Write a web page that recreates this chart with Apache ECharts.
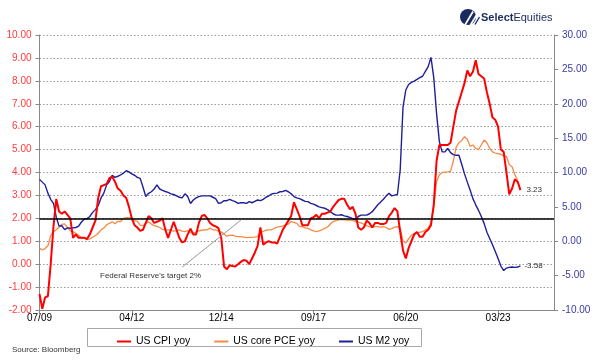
<!DOCTYPE html>
<html><head><meta charset="utf-8">
<script src="https://cdn.jsdelivr.net/npm/echarts/dist/echarts.min.js"></script>
<style>html,body{margin:0;padding:0;background:#fff}#c{width:598px;height:364px}</style>
</head><body><div id="c"></div>
<script>
// ---- categories (monthly, 07/09 .. 11/24) ----
const startYear = 2009, startMonth = 7, nMonths = 185;
const categories = [];
for (let k = 0; k < nMonths; k++) {
  const m = (startMonth - 1 + k) % 12 + 1;
  const y = startYear + Math.floor((startMonth - 1 + k) / 12);
  categories.push(String(m).padStart(2, '0') + '/' + String(y % 100).padStart(2, '0'));
}
const xTickLabels = ['07/09', '04/12', '12/14', '09/17', '06/20', '03/23'];

// ---- series values ----
const cpiYoy = [
 -1.3,-1.95,-1.45,-1.4,0.0,1.65,2.84,2.3,2.2,2.3,
 2.15,2.0,1.15,1.3,1.15,1.15,1.15,1.1,1.3,1.6,
 1.9,2.9,3.4,3.45,3.5,3.75,3.82,3.6,3.3,3.2,
 3.0,2.9,2.5,2.0,1.7,1.6,1.45,1.5,1.8,2.1,
 2.0,1.8,1.85,1.9,2.0,1.5,1.15,1.5,1.85,1.5,
 1.15,0.95,1.0,1.3,1.55,1.3,1.3,1.8,2.1,2.15,
 2.0,1.8,1.7,1.65,1.57,1.15,-0.1,-0.22,-0.05,-0.08,
 -0.1,0.0,0.1,0.18,0.15,0.0,0.25,0.5,0.8,1.6,
 0.85,0.95,1.0,0.95,0.95,0.9,1.2,1.5,1.7,1.9,
 2.1,2.7,2.4,2.1,1.7,1.7,1.7,2.0,2.05,2.15,
 2.0,2.2,2.2,2.25,2.3,2.5,2.65,2.8,2.85,2.85,
 2.6,2.4,2.5,2.2,1.6,1.5,1.6,1.9,1.8,1.6,
 1.8,1.8,1.75,1.75,1.8,2.1,2.25,2.45,2.3,1.4,
 0.6,0.25,0.7,1.0,1.3,1.4,1.2,1.2,1.4,1.5,
 1.7,2.6,4.5,5.2,5.2,5.2,5.2,5.3,6.0,6.7,
 7.1,7.5,7.9,8.45,8.2,8.4,8.9,8.3,8.2,8.1,
 7.5,7.0,6.4,6.3,6.0,5.0,4.9,4.0,3.05,3.3,
 3.7,3.6,3.23
];
const corePceYoy = [
 0.7,0.62,0.68,0.8,1.25,1.42,1.5,1.62,1.74,1.76,
 1.6,1.45,1.42,1.35,1.26,1.14,1.16,1.07,1.1,1.18,
 1.25,1.35,1.5,1.57,1.72,1.78,1.85,1.76,1.87,1.86,
 2.0,2.03,2.02,2.03,1.9,1.87,1.7,1.68,1.78,1.85,
 1.75,1.68,1.65,1.6,1.52,1.5,1.5,1.48,1.44,1.46,
 1.5,1.44,1.42,1.46,1.38,1.35,1.4,1.45,1.48,1.5,
 1.5,1.57,1.5,1.5,1.43,1.4,1.32,1.22,1.26,1.27,
 1.22,1.2,1.2,1.18,1.16,1.17,1.17,1.18,1.2,1.4,
 1.43,1.48,1.5,1.5,1.56,1.62,1.64,1.66,1.7,1.75,
 1.86,1.82,1.78,1.64,1.64,1.58,1.56,1.5,1.45,1.42,
 1.45,1.5,1.56,1.62,1.75,1.86,1.9,1.93,1.95,1.93,
 1.92,1.93,1.9,1.86,1.84,1.8,1.74,1.68,1.64,1.62,
 1.64,1.64,1.62,1.64,1.6,1.52,1.55,1.62,1.64,1.56,
 1.0,0.93,1.1,1.27,1.32,1.35,1.4,1.42,1.5,1.58,
 1.82,2.5,3.6,3.9,4.0,4.02,4.03,4.05,4.5,5.1,
 5.3,5.4,5.56,5.45,5.15,5.2,5.05,5.0,5.2,5.42,
 5.3,5.05,4.9,4.85,4.82,4.79,4.72,4.7,4.35,4.25,
 3.9,3.65
];
const m2Yoy = [
 9.0,8.6,8.2,7.0,6.1,5.5,3.5,2.2,2.25,1.7,
 1.95,1.9,1.95,2.0,2.2,2.8,3.2,3.3,3.6,4.2,
 4.6,5.2,6.3,7.0,8.2,8.7,9.6,9.3,9.45,9.64,
 9.9,10.25,10.1,9.8,9.6,9.3,9.15,7.9,6.5,6.97,
 7.2,7.6,8.2,7.6,7.4,7.24,7.1,6.9,6.8,6.6,
 6.4,6.3,6.9,6.5,5.5,6.0,6.3,6.5,6.6,6.6,
 6.6,6.6,6.4,6.2,5.5,5.6,5.9,5.9,6.1,5.9,
 5.76,5.5,5.6,5.6,5.5,5.76,5.6,5.8,6.0,5.9,
 6.1,6.4,6.6,6.87,6.97,7.0,7.2,7.24,7.4,7.2,
 6.9,6.5,6.3,6.2,6.0,5.8,5.76,5.5,5.4,5.2,
 5.0,4.9,4.8,4.6,4.3,4.0,3.8,3.8,3.85,3.7,
 3.6,3.47,3.3,3.1,3.6,3.8,3.8,3.8,4.0,4.3,
 4.8,5.3,5.7,6.1,6.6,6.97,6.6,6.7,6.8,10.4,
 19.5,22.0,22.8,23.1,23.3,23.55,23.8,24.0,24.7,25.4,
 26.75,23.8,18.6,14.5,13.0,13.0,13.5,12.9,12.6,12.5,
 12.5,11.2,9.8,8.6,7.45,6.2,5.3,4.5,3.6,2.6,
 1.3,0.4,-0.5,-1.5,-2.5,-3.6,-4.27,-3.9,-3.8,-3.75,
 -3.8,-3.75,-3.58
];
const seriesNames = ['US CPI yoy', 'US core PCE yoy', 'US M2 yoy'];
const fedTarget = 2;
const fedNote = "Federal Reserve's target 2%";
const leftTicks = { min: -2, max: 10, step: 1 };
const rightTicks = { min: -10, max: 30, step: 5 };

const FONT = 'Liberation Sans, Arial, sans-serif';
const chart = echarts.init(document.getElementById('c'), null, { renderer: 'canvas' });
const showTick = (idx, val) => xTickLabels.indexOf(val) >= 0;

chart.setOption({
  animation: false,
  backgroundColor: '#fff',
  textStyle: { fontFamily: FONT },
  grid: { left: 39.5, right: 44, top: 35, bottom: 54, containLabel: false },
  legend: {
    left: 112, top: 331, itemWidth: 14, itemHeight: 2, itemGap: 24, icon: 'rect',
    textStyle: { fontSize: 10.5, color: '#000', fontFamily: FONT },
    data: seriesNames
  },
  xAxis: {
    type: 'category', data: categories, boundaryGap: false,
    axisLine: { onZero: false, lineStyle: { color: '#888', width: 1 } },
    axisTick: { show: true, interval: showTick, length: 4, lineStyle: { color: '#888' } },
    axisLabel: { interval: showTick, fontSize: 10, color: '#000', margin: 3 },
    splitLine: { show: false }
  },
  yAxis: [{
    type: 'value', position: 'left', min: leftTicks.min, max: leftTicks.max, interval: leftTicks.step,
    axisLine: { show: true, lineStyle: { color: '#888' } },
    axisTick: { show: true, length: 4, lineStyle: { color: '#888' } },
    axisLabel: { formatter: v => v.toFixed(2), color: '#ff3a3a', fontSize: 10, margin: 8 },
    splitLine: { show: true, lineStyle: { color: '#999', width: 1, type: [1.5, 2] } }
  }, {
    type: 'value', position: 'right', min: rightTicks.min, max: rightTicks.max, interval: rightTicks.step,
    axisLine: { show: true, lineStyle: { color: '#888' } },
    axisTick: { show: true, length: 4, lineStyle: { color: '#888' } },
    axisLabel: { formatter: v => v.toFixed(2), color: '#3a3aa6', fontSize: 10, margin: 8 },
    splitLine: { show: false }
  }],
  series: [{
    name: seriesNames[1], type: 'line', yAxisIndex: 0, data: corePceYoy,
    showSymbol: false, symbol: 'none', z: 2,
    itemStyle: { color: '#f58b45' }, lineStyle: { color: '#f58b45', width: 1.3 }
  }, {
    name: seriesNames[2], type: 'line', yAxisIndex: 1, data: m2Yoy,
    showSymbol: false, symbol: 'none', z: 3,
    itemStyle: { color: '#1f1f9c' }, lineStyle: { color: '#1f1f9c', width: 1.4 },
    endLabel: { show: true, formatter: p => Number(p.value).toFixed(2), color: '#333', fontSize: 8, distance: 4 }
  }, {
    name: seriesNames[0], type: 'line', yAxisIndex: 0, data: cpiYoy,
    showSymbol: false, symbol: 'none', z: 4,
    itemStyle: { color: '#ff0000' }, lineStyle: { color: '#ff0000', width: 2 },
    endLabel: { show: true, formatter: p => Number(p.value).toFixed(2), color: '#333', fontSize: 8, distance: 6 },
    markLine: {
      silent: true, symbol: ['none', 'none'], animation: false,
      label: { show: false },
      data: [
        { yAxis: fedTarget, lineStyle: { color: '#000', width: 1.5, type: 'solid' } },
        [ { coord: [51, -0.13], lineStyle: { color: '#9a9a9a', width: 1, type: 'solid' } }, { coord: [72, 1.92] } ]
      ]
    }
  }],
  graphic: [
    { type: 'rect', z: -1, shape: { x: 87.5, y: 328.5, width: 334, height: 18 },
      style: { fill: '#fff', stroke: '#a8a8a8', lineWidth: 1 } },
    { type: 'text', left: 100, top: 272, style: { text: fedNote, fontSize: 8, fill: '#333', fontFamily: FONT } },
    { type: 'text', left: 12, top: 346, style: { text: 'Source: Bloomberg', fontSize: 8, fill: '#333', fontFamily: FONT } },
    { type: 'group', left: 460, top: 9, children: [
      { type: 'circle', shape: { cx: 8, cy: 8.5, r: 8 }, style: { fill: '#1b2b5e' } },
      { type: 'line', shape: { x1: 5, y1: 16.5, x2: 13, y2: 3 }, style: { stroke: '#fff', lineWidth: 1.7 } },
      { type: 'line', shape: { x1: 10.5, y1: 16.5, x2: 17.5, y2: 5 }, style: { stroke: '#fff', lineWidth: 1.7 } },
      { type: 'line', shape: { x1: 15, y1: 16, x2: 19.5, y2: 8.5 }, style: { stroke: '#1b2b5e', lineWidth: 1.4 } }
    ]},
    { type: 'text', left: 481, top: 12, style: {
      text: '{b|Select}{n|Equities}', fontFamily: FONT,
      rich: { b: { fontWeight: 'bold', fontSize: 11, fill: '#1b2b5e', fontFamily: FONT },
              n: { fontSize: 11, fill: '#1b2b5e', fontFamily: FONT } } } }
  ]
});
</script>
</body></html>
